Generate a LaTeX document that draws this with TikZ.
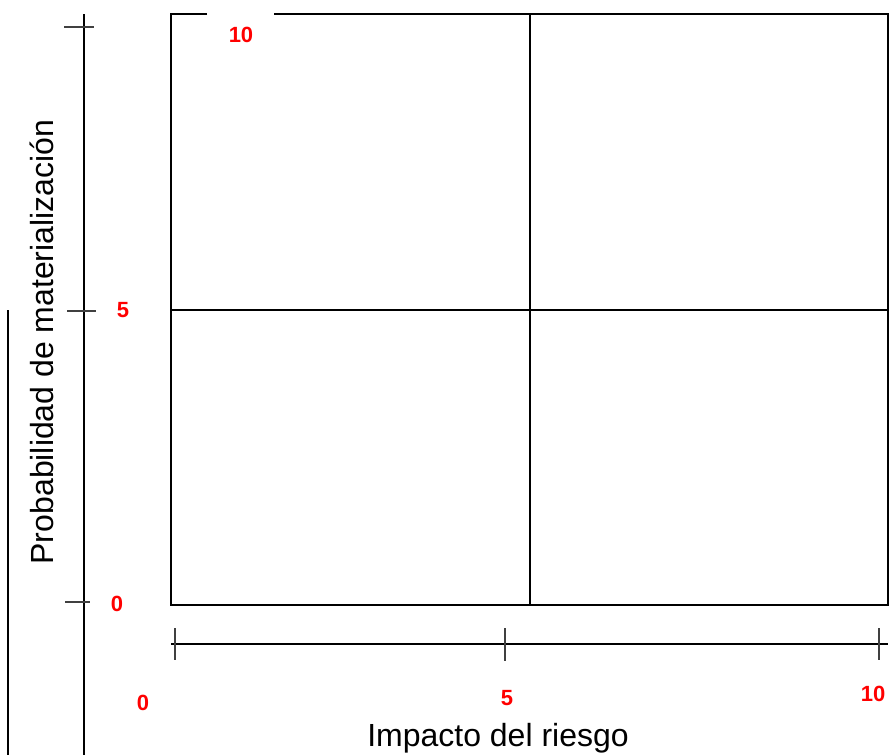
\documentclass[tikz,border=0pt]{standalone}
\usepackage{fontspec}
\setmainfont{Liberation Sans}
\begin{document}
\begin{tikzpicture}[x=1pt,y=-1pt,
  frame/.style={line width=2pt,black},
  tick/.style={line width=1.3pt,black!75},
  num/.style={text=red,font=\fontsize{22}{24}\selectfont\bfseries,inner sep=0pt},
  axlabel/.style={font=\fontsize{32}{36}\selectfont,inner sep=0pt}]
\useasboundingbox (0,0) rectangle (889,755);
% main grid
\coordinate (tl) at (171,14);
\coordinate (gapL) at (207,14);
\coordinate (gapR) at (274,14);
\coordinate (tr) at (888,14);
\coordinate (br) at (888,605);
\coordinate (bl) at (171,605);
\draw[frame] (gapL) -- (tl) -- (bl) -- (br) -- (tr) -- (gapR);
\coordinate (vt) at (530,14);
\coordinate (vb) at (530,605);
\draw[frame] (vt) -- (vb);
\coordinate (hl) at (171,310);
\coordinate (hr) at (888,310);
\draw[frame] (hl) -- (hr);
% left axis
\coordinate (ya) at (84,14);
\coordinate (yb) at (84,755);
\draw[frame] (ya) -- (yb);
\coordinate (yt1a) at (64,27); \coordinate (yt1b) at (94,27);
\coordinate (yt2a) at (67,311); \coordinate (yt2b) at (96,311);
\coordinate (yt3a) at (65,602); \coordinate (yt3b) at (90,602);
\draw[tick] (yt1a) -- (yt1b);
\draw[tick] (yt2a) -- (yt2b);
\draw[tick] (yt3a) -- (yt3b);
\coordinate (oa) at (8,310);
\coordinate (ob) at (8,755);
\draw[frame] (oa) -- (ob);
% bottom axis
\coordinate (xa) at (171,644);
\coordinate (xb) at (888,644);
\draw[frame] (xa) -- (xb);
\coordinate (xt1a) at (175,628); \coordinate (xt1b) at (175,660);
\coordinate (xt2a) at (505,628); \coordinate (xt2b) at (505,661);
\coordinate (xt3a) at (879,628); \coordinate (xt3b) at (879,660);
\draw[tick] (xt1a) -- (xt1b);
\draw[tick] (xt2a) -- (xt2b);
\draw[tick] (xt3a) -- (xt3b);
% labels
\node[num] (n10y) at (241,35) {10};
\node[num] (n5y) at (123,310) {5};
\node[num] (n0y) at (117,604) {0};
\node[num] (n0x) at (143,703) {0};
\node[num] (n5x) at (507,698) {5};
\node[num] (n10x) at (873,694) {10};
\node[axlabel,rotate=90] (ylab) at (42,342) {Probabilidad de materialización};
\node[axlabel] (xlab) at (498,738) {Impacto del riesgo};
\end{tikzpicture}
\end{document}
